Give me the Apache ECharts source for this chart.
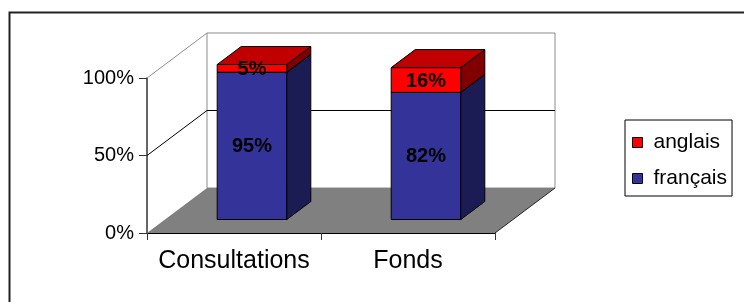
<!DOCTYPE html>
<html>
<head>
<meta charset="utf-8">
<script src="https://cdn.jsdelivr.net/npm/echarts@6/dist/echarts.min.js"></script>
<style>
  html, body { margin: 0; padding: 0; background: #fff; }
  #chart { width: 744px; height: 302px; }
</style>
</head>
<body>
<div id="chart"></div>
<script>
// données du graphique
const categories = ['Consultations', 'Fonds'];
const francais = [95, 82];
const anglais = [5, 16];
const yTicks = [0, 50, 100];

// décalage de profondeur (pseudo 3D), en pixels
const DX = 60, DY = -45;
const BAR_FRONT = 0.3, BAR_DEPTH = 0.4, BAR_WIDTH = 0.4;

const yMax = yTicks[yTicks.length - 1];

// murs + sol
function renderWalls(params, api) {
  const band = api.size([1, 0])[0];
  const last = categories.length - 1;
  const pt = (ci, v, side) => {
    const c = api.coord([ci, v]);
    return [c[0] + side * band / 2, c[1]];
  };
  const fl0 = pt(0, 0, -1), fr0 = pt(last, 0, 1);
  const fl1 = pt(0, yMax, -1), fr1 = pt(last, yMax, 1);
  const back = p => [p[0] + DX, p[1] + DY];
  const children = [];
  // mur du fond
  children.push({
    type: 'polygon',
    shape: { points: [back(fl0), back(fr0), back(fr1), back(fl1)] },
    style: { fill: '#fff', stroke: '#8c8c8c', lineWidth: 1 }
  });
  // sol
  children.push({
    type: 'polygon',
    shape: { points: [fl0, fr0, back(fr0), back(fl0)] },
    style: { fill: '#808080', stroke: null }
  });
  children.push({
    type: 'line',
    shape: { x1: fr0[0], y1: fr0[1], x2: back(fr0)[0], y2: back(fr0)[1] },
    style: { stroke: '#222', lineWidth: 1 }
  });
  // arête haute du mur gauche
  children.push({
    type: 'line',
    shape: { x1: fl1[0], y1: fl1[1], x2: back(fl1)[0], y2: back(fl1)[1] },
    style: { stroke: '#8c8c8c', lineWidth: 1 }
  });
  // quadrillage
  yTicks.forEach(v => {
    if (v === 0 || v === yMax) return;
    const a = pt(0, v, -1), b = pt(last, v, 1);
    children.push({
      type: 'polyline',
      shape: { points: [a, back(a), back(b)] },
      style: { stroke: '#000', lineWidth: 1, fill: null }
    });
  });
  return { type: 'group', children: children };
}

function boxRenderer(front, side, top) {
  return function (params, api) {
    const ci = api.value(0), v0 = api.value(1), v1 = api.value(2);
    const bw = api.size([1, 0])[0] * BAR_WIDTH;
    const c0 = api.coord([ci, v0]), c1 = api.coord([ci, v1]);
    const ox = DX * BAR_FRONT, oy = DY * BAR_FRONT;
    const dx = DX * BAR_DEPTH, dy = DY * BAR_DEPTH;
    const x0 = c0[0] - bw / 2 + ox, x1 = x0 + bw;
    const yb = c0[1] + oy, yt = c1[1] + oy;
    const st = { stroke: '#000', lineWidth: 1 };
    return {
      type: 'group',
      children: [
        { type: 'polygon', shape: { points: [[x0, yb], [x1, yb], [x1, yt], [x0, yt]] },
          style: Object.assign({ fill: front }, st) },
        { type: 'polygon', shape: { points: [[x1, yb], [x1 + dx, yb + dy], [x1 + dx, yt + dy], [x1, yt]] },
          style: Object.assign({ fill: side }, st) },
        { type: 'polygon', shape: { points: [[x0, yt], [x1, yt], [x1 + dx, yt + dy], [x0 + dx, yt + dy]] },
          style: Object.assign({ fill: top }, st) },
        { type: 'text',
          style: {
            text: Math.round(v1 - v0) + '%',
            x: (x0 + x1) / 2, y: (yb + yt) / 2 + 1,
            align: 'center', verticalAlign: 'middle',
            fontSize: 20, fontWeight: 'bold', fontFamily: 'Liberation Sans, Arial',
            fill: '#000'
          } }
      ]
    };
  };
}

const chart = echarts.init(document.getElementById('chart'));

const option = {
  animation: false,
  textStyle: { fontFamily: 'Liberation Sans, Arial' },
  graphic: [{
    type: 'rect', left: 7, top: 10,
    shape: { width: 800, height: 400 },
    style: { fill: null, stroke: '#222', lineWidth: 2 },
    silent: true
  }],
  legend: {
    orient: 'vertical',
    left: 625, top: 120,
    data: ['anglais', 'français'],
    padding: [12, 5, 7, 7],
    itemGap: 15,
    itemWidth: 10, itemHeight: 10,
    icon: 'rect',
    borderColor: '#000', borderWidth: 1,
    itemStyle: { borderColor: '#000', borderWidth: 1 },
    textStyle: { fontSize: 21, color: '#000', padding: [0, 0, 0, 6] }
  },
  grid: { left: 147, right: 249, top: 78, bottom: 69, outerBoundsMode: 'none' },
  xAxis: {
    type: 'category',
    data: categories,
    axisLine: { lineStyle: { color: '#000', width: 1 } },
    axisTick: { show: true, interval: 0, length: 7, lineStyle: { color: '#333' } },
    axisLabel: { interval: 0, fontSize: 25, color: '#000', margin: 16 },
    splitLine: { show: false }
  },
  yAxis: {
    type: 'value',
    min: 0, max: yMax, interval: 50,
    axisLine: { show: true, lineStyle: { color: '#333', width: 1.5 } },
    axisTick: { show: true, length: 8, lineStyle: { color: '#333' } },
    axisLabel: { fontSize: 20, color: '#000', margin: 13, formatter: '{value}%' },
    splitLine: { show: false }
  },
  series: [
    {
      name: 'murs',
      type: 'custom',
      silent: true,
      z: 1,
      renderItem: renderWalls,
      data: [[0, 0, 0]]
    },
    {
      name: 'français',
      type: 'custom',
      z: 3,
      itemStyle: { color: '#333399' },
      renderItem: boxRenderer('#333399', '#1c1c55', '#262673'),
      data: categories.map((c, i) => [i, 0, francais[i]])
    },
    {
      name: 'anglais',
      type: 'custom',
      z: 3,
      itemStyle: { color: '#ff0000' },
      renderItem: boxRenderer('#ff0000', '#800000', '#c00000'),
      data: categories.map((c, i) => [i, francais[i], francais[i] + anglais[i]])
    }
  ]
};

chart.setOption(option);
</script>
</body>
</html>
